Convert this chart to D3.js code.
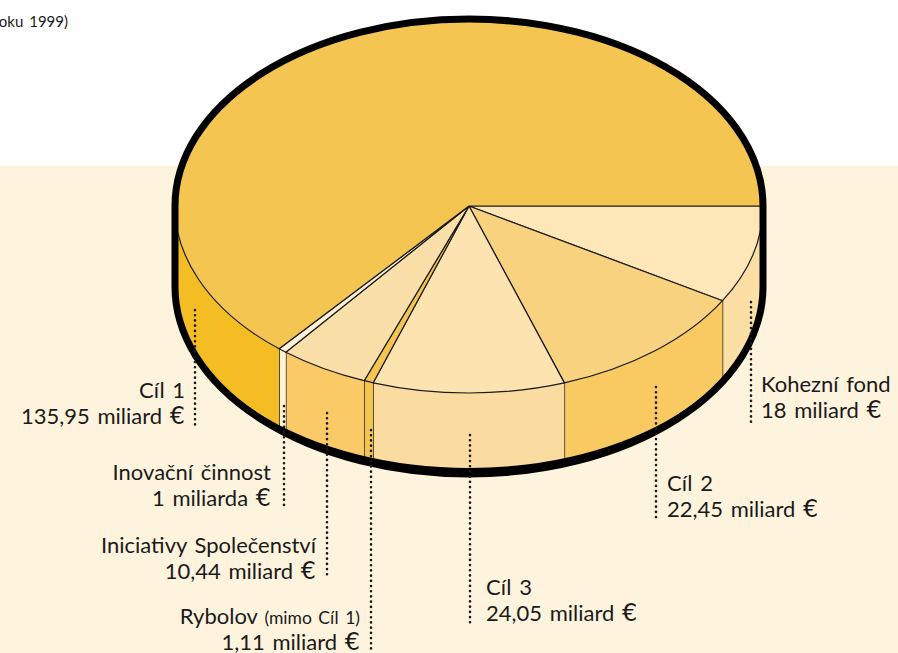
<!DOCTYPE html>
<html>
<head>
<meta charset="utf-8">
<script src="https://d3js.org/d3.v7.min.js"></script>
<style>
    html, body { margin: 0; padding: 0; background: #fff; }
    text { font-family: Lato, "Open Sans", sans-serif; fill: #1a1a1a; word-spacing: 2px; }
    .euro { font-family: "DejaVu Sans", sans-serif; font-size: 24px; }
</style>
</head>
<body>
<script>
    // values in miliard EUR, clockwise from the east edge
    var names = ["Kohezní fond", "Cíl 2", "Cíl 3", "Rybolov", "Iniciativy Společenství", "Inovační činnost", "Cíl 1"];
    var values = [18, 22.45, 24.05, 1.11, 10.44, 1, 135.95];
    // the original drawing has the Cíl 2 and Cíl 3 wedges swapped against its own labels, kept as drawn
    var drawnValues = [18, 24.05, 22.45, 1.11, 10.44, 1, 135.95];
    var amounts = ["18 miliard", "22,45 miliard", "24,05 miliard", "1,11 miliard", "10,44 miliard", "1 miliarda", "135,95 miliard"];
    var topColors = ["#fde6b8", "#f8d27f", "#fde3b0", "#f5c551", "#fbdfa8", "#fef1d6", "#f5c551"];
    var sideColors = ["#fbdfa5", "#f9ca62", "#fbdca0", "#f5c551", "#f9ca66", "#fef1d6", "#f4bd24"];

    var w = 898, h = 653;
    var cx = 469, cy = 206, rx = 294, ry = 187, depth = 81;

    var svg = d3.select("body").append("svg")
        .attr("width", w)
        .attr("height", h)
        .style("display", "block");

    // pale band behind the lower part
    svg.append("rect").attr("x", 0).attr("y", 166).attr("width", w).attr("height", h - 166).attr("fill", "#fef4de");

    svg.append("text").attr("x", 68).attr("y", 27).attr("text-anchor", "end")
        .attr("font-size", 15).text("oku 1999)");

    var arcs = d3.pie().value(function(d) { return d; }).sort(null)
        .startAngle(0).endAngle(2 * Math.PI)(drawnValues);

    function px(t) { return cx + rx * Math.cos(t); }
    function py(t) { return cy + ry * Math.sin(t); }

    // elliptical arc to angle t1 as an svg path fragment, dy shifts it down to the base
    function ell(t0, t1, sweep, dy) {
        var large = Math.abs(t1 - t0) > Math.PI ? 1 : 0;
        return "A" + rx + "," + ry + " 0 " + large + "," + sweep + " " + px(t1) + "," + (py(t1) + dy);
    }

    // walls, only the front half can be seen
    arcs.forEach(function(a, i) {
        var t0 = a.startAngle, t1 = Math.min(a.endAngle, Math.PI);
        if (t0 >= Math.PI) return;
        svg.append("path")
            .attr("d", "M" + px(t0) + "," + py(t0) + ell(t0, t1, 1, 0) +
                "L" + px(t1) + "," + (py(t1) + depth) + ell(t1, t0, 0, depth) + "Z")
            .attr("fill", sideColors[i]);
        if (a.endAngle < Math.PI) {
            svg.append("line")
                .attr("x1", px(t1)).attr("y1", py(t1))
                .attr("x2", px(t1)).attr("y2", py(t1) + depth)
                .attr("stroke", "#1a1a1a").attr("stroke-width", 1.4);
        }
    });

    // top face
    arcs.forEach(function(a, i) {
        svg.append("path")
            .attr("d", "M" + cx + "," + cy + "L" + px(a.startAngle) + "," + py(a.startAngle) +
                ell(a.startAngle, a.endAngle, 1, 0) + "Z")
            .attr("fill", topColors[i])
            .attr("stroke", "#1a1a1a")
            .attr("stroke-width", 1.2)
            .attr("stroke-linejoin", "round");
    });

    // heavy outline all the way round
    svg.append("path")
        .attr("d", "M" + px(0) + "," + py(0) + ell(0, Math.PI, 0, 0) +
            "L" + px(Math.PI) + "," + (py(Math.PI) + depth) +
            ell(Math.PI, 0, 0, depth) + "Z")
        .attr("fill", "none")
        .attr("stroke", "#000")
        .attr("stroke-width", 7)
        .attr("stroke-linejoin", "round");

    // the base line swells towards the front, done with a thin filled crescent
    svg.append("path")
        .attr("d", "M" + px(0) + "," + (cy + depth) +
            "A" + rx + "," + (ry + 1) + " 0 0,1 " + px(Math.PI) + "," + (cy + depth) +
            "A" + rx + "," + (ry - 6) + " 0 0,0 " + px(0) + "," + (cy + depth) + "Z")
        .attr("fill", "#000");

    // leader lines and labels
    var leaders = [
        {i: 0, x: 751, y1: 302, y2: 423, tx: 761, ty: 392, anchor: "start"},
        {i: 1, x: 656, y1: 387, y2: 520, tx: 667, ty: 491, anchor: "start"},
        {i: 2, x: 470, y1: 435, y2: 623, tx: 486, ty: 595, anchor: "start"},
        {i: 3, x: 371, y1: 430, y2: 650, tx: 360, ty: 624, anchor: "end"},
        {i: 4, x: 327, y1: 413, y2: 578, tx: 316, ty: 553, anchor: "end"},
        {i: 5, x: 284, y1: 406, y2: 507, tx: 271, ty: 480, anchor: "end"},
        {i: 6, x: 195, y1: 310, y2: 425, tx: 185, ty: 398, anchor: "end"}
    ];
    var lineGap = 26;

    leaders.forEach(function(l) {
        svg.append("line")
            .attr("x1", l.x).attr("y1", l.y1).attr("x2", l.x).attr("y2", l.y2)
            .attr("stroke", "#1a1a1a")
            .attr("stroke-width", 2.6)
            .attr("stroke-linecap", "round")
            .attr("stroke-dasharray", "0.1 5.1");
        var first = svg.append("text").attr("x", l.tx).attr("y", l.ty)
            .attr("text-anchor", l.anchor).attr("font-size", 22).text(names[l.i]);
        if (names[l.i] == "Rybolov") {
            first.append("tspan").attr("font-size", 17.5).text(" (mimo Cíl 1)");
        }
        var second = svg.append("text").attr("x", l.tx).attr("y", l.ty + lineGap)
            .attr("text-anchor", l.anchor).attr("font-size", 22).text(amounts[l.i] + " ");
        second.append("tspan").attr("class", "euro").text("€");
    });
</script>
</body>
</html>
